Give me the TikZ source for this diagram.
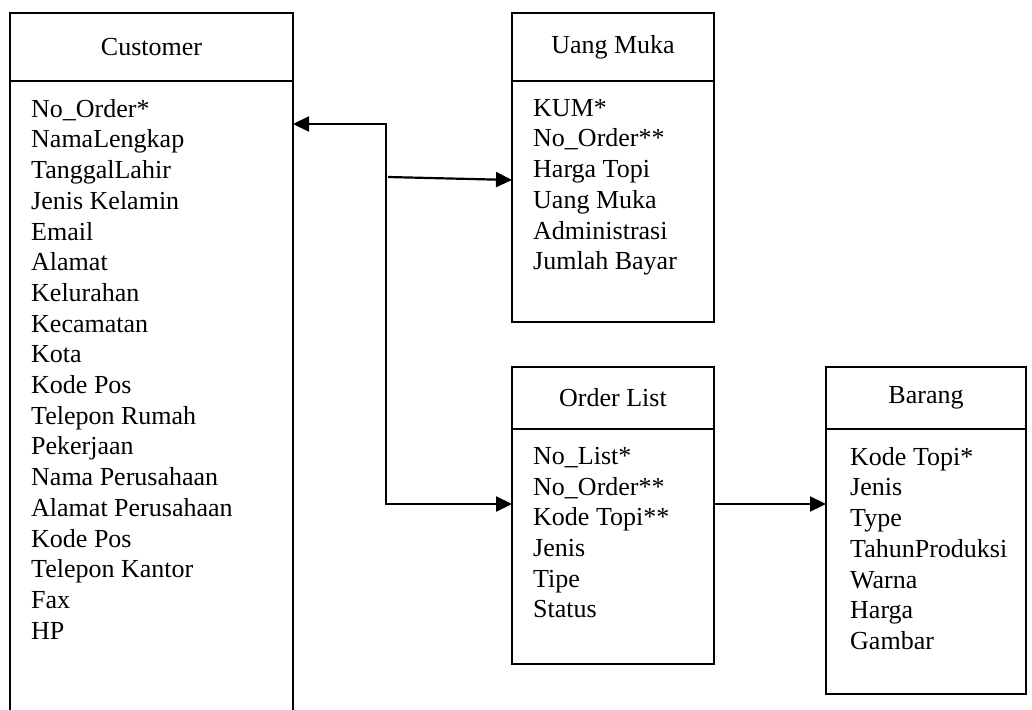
\documentclass[tikz,border=0pt]{standalone}
\usepackage{fontspec}
\setmainfont{Liberation Serif}
\usetikzlibrary{arrows.meta,positioning}

\begin{document}
\begin{tikzpicture}[x=1pt,y=-1pt,>={Triangle[length=16pt,width=15pt]},
  every node/.style={font=\fontsize{26pt}{30.7pt}\selectfont},
  tbl head/.style={draw,line width=1.8pt,anchor=north west,inner sep=0pt,outer sep=0pt},
  tbl body/.style={draw,line width=1.8pt,inner sep=0pt,outer sep=0pt},
  attr list/.style={anchor=north west,align=left,inner sep=0pt},
  rel/.style={line width=2.2pt}]
\useasboundingbox (0,0) rectangle (1032,709);
\clip (0,0) rectangle (1032,709);
% tables
\node[tbl head,minimum width=283pt,minimum height=68pt] (cust) at (10,13) {Customer};
\node[tbl body,minimum width=283pt,minimum height=640pt,below=0pt of cust] (custbody) {};
\node[tbl head,minimum width=202pt,minimum height=68pt] (um) at (512,13) {Uang Muka};
\node[tbl body,minimum width=202pt,minimum height=241pt,below=0pt of um] (umbody) {};
\node[tbl head,minimum width=202pt,minimum height=62pt] (ol) at (512,367) {Order List};
\node[tbl body,minimum width=202pt,minimum height=235pt,below=0pt of ol] (olbody) {};
\node[tbl head,minimum width=200pt,minimum height=62pt] (brg) at (826,367) {Barang};
\node[tbl body,minimum width=200pt,minimum height=265pt,below=0pt of brg] (brgbody) {};
% fields
\node[attr list] (custattr) at (31,99) {No\_Order*\\NamaLengkap\\TanggalLahir\\Jenis Kelamin\\Email\\Alamat\\Kelurahan\\Kecamatan\\Kota\\Kode Pos\\Telepon Rumah\\Pekerjaan\\Nama Perusahaan\\Alamat Perusahaan\\Kode Pos\\Telepon Kantor\\Fax\\HP};
\node[attr list] (umattr) at (533,99) {KUM*\\No\_Order**\\Harga Topi\\Uang Muka\\Administrasi\\Jumlah Bayar};
\node[attr list] (olattr) at (533,447) {No\_List*\\No\_Order**\\Kode Topi**\\Jenis\\Tipe\\Status};
\node[attr list] (brgattr) at (850,447) {Kode Topi*\\Jenis\\Type\\TahunProduksi\\Warna\\Harga\\Gambar};
% relations
\coordinate (j1) at (386,124);
\coordinate (j2) at (386,504);
\coordinate (s1) at (388,177);
\draw[rel,<->] (j1 -| custbody.east) -- (j1) -- (j2) -- (j2 -| olbody.west);
\draw[rel,->] (s1) -- ([yshift=-3pt]s1 -| umbody.west);
\draw[rel,->] (olbody.east |- j2) -- (brgbody.west |- j2);
\end{tikzpicture}
\end{document}
